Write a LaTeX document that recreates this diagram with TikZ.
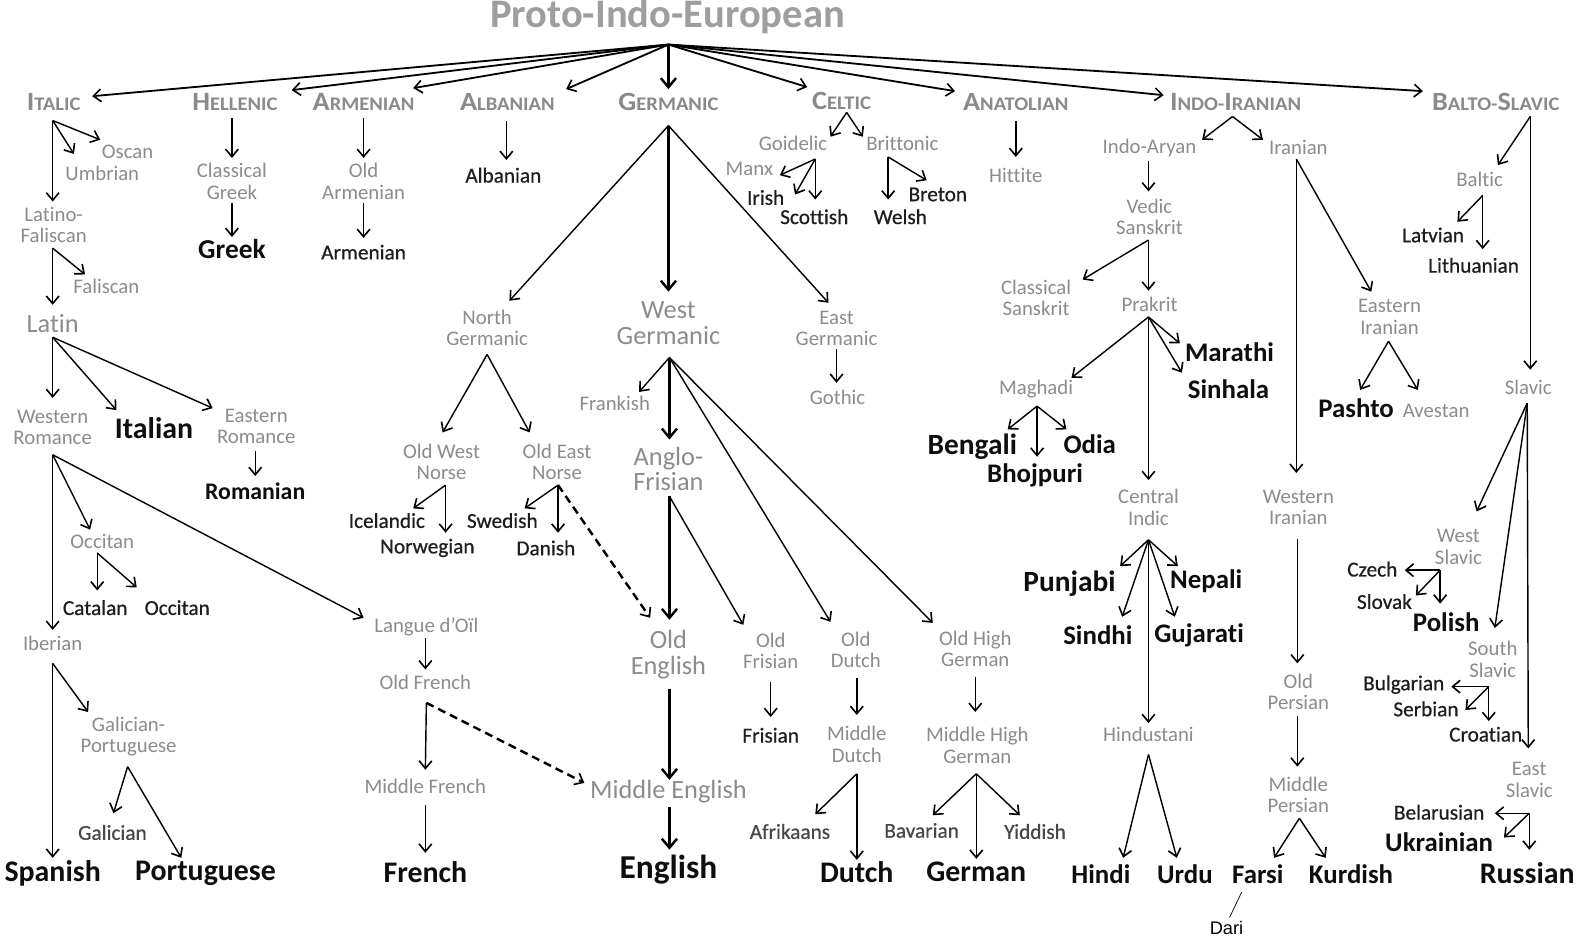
\documentclass[tikz,border=0pt]{standalone}
\usepackage{fontspec}
\setmainfont{Carlito}[Ligatures=NoCommon]
\newfontfamily\hdfont[FakeStretch=1.07,Ligatures=NoCommon]{Carlito}
\newfontfamily\dkfont[FakeBold=0.6,Ligatures=NoCommon]{Carlito}
\newfontfamily\arialf{Liberation Sans}
\usetikzlibrary{arrows.meta}
\definecolor{gt}{HTML}{8C8C8C}
\definecolor{ht}{HTML}{8A8A8A}
\definecolor{dt}{HTML}{1E1E1E}
\definecolor{bt}{HTML}{0E0E0E}
\definecolor{pt}{HTML}{9E9E9E}
\newcommand\myfs[2]{\fontsize{#1}{#2}\selectfont}
\newcommand\bigc[1]{{\myfs{26}{26}#1}}
\newcommand\cn[5][]{\draw[ar,#1] ([shift={(#3)}]#2.center) -- ([shift={(#5)}]#4.center);}
\begin{document}
\begin{tikzpicture}[x=1pt,y=-1pt,
  gn/.style={font=\myfs{20.5}{21}, text=gt, align=center, inner sep=0pt},
  gl/.style={font=\myfs{26}{25.5}, text=gt, align=center, inner sep=0pt},
  dk/.style={font=\dkfont\myfs{21}{22}, text=dt, inner sep=0pt},
  bg/.style={font=\bfseries\myfs{29.5}{30}, text=bt, inner sep=0pt},
  bm/.style={font=\bfseries\myfs{26.5}{27}, text=bt, inner sep=0pt},
  hd/.style={font=\hdfont\bfseries\myfs{19}{19}, text=ht, inner sep=0pt},
  ar/.style={-{Straight Barb[length=7.5pt,width=12.5pt,line width=1.6pt]}, line width=1.4pt, draw=black},
  pa/.style={line width=1.8pt},
  tk/.style={-{Straight Barb[length=9pt,width=15pt,line width=2.4pt]}, line width=3.2pt},
  dsh/.style={dash pattern=on 8pt off 5pt, line width=2.4pt}
]
\useasboundingbox (0,0) rectangle (1568,938);
\fill[white] (0,0) rectangle (1568,938);

% title
\node[font=\bfseries\myfs{40}{40}, text=pt, inner sep=0pt] (proto) at (659,16) {Proto-Indo-European};

% headers
\node[hd] (italic) at (53,101) {\bigc{I}TALIC};
\node[hd] (hellenic) at (232,101) {\bigc{H}ELLENIC};
\node[hd] (armenian) at (359,101) {\bigc{A}RMENIAN};
\node[hd] (albanian) at (501,101) {\bigc{A}LBANIAN};
\node[hd] (germanic) at (660,101) {\bigc{G}ERMANIC};
\node[hd] (celtic) at (831,100) {\bigc{C}ELTIC};
\node[hd] (anatolian) at (1003,101) {\bigc{A}NATOLIAN};
\node[hd] (indoiranian) at (1220,101) {\bigc{I}NDO-\bigc{I}RANIAN};
\node[hd] (baltoslavic) at (1477,101) {\bigc{B}ALTO-\bigc{S}LAVIC};

\cn[pa]{proto}{1,28}{italic}{38,-6}
\cn[pa]{proto}{1,28}{hellenic}{56,-12}
\cn[pa]{proto}{1,28}{armenian}{49,-14}
\cn[pa]{proto}{1,28}{albanian}{58,-13}
\cn[tk]{proto}{1,28}{germanic}{0,-13}
\cn[pa]{proto}{1,28}{celtic}{-34,-14}
\cn[pa]{proto}{1,28}{anatolian}{-60,-11}
\cn[pa]{proto}{1,28}{indoiranian}{-71,-7}
\cn[pa]{proto}{1,28}{baltoslavic}{-72,-11}

% ---------------- Italic
\node[gn] (oscan) at (126,150) {Oscan};
\node[gn] (umbrian) at (101,171) {Umbrian};
\node[gn] (latfal) at (53,222) {Latino-\\Faliscan};
\node[gn] (faliscan) at (105,283) {Faliscan};
\node[gl] (latin) at (52,319) {Latin};
\node[gn] (wrom) at (52,422) {Western\\Romance};
\node[bg] (italian) at (152,423) {Italian};
\node[gn] (erom) at (253,421) {Eastern\\Romance};
\node[font=\bfseries\myfs{23.5}{24}, text=bt, inner sep=0pt] (romanian) at (252,485) {Romanian};
\node[gn] (occg) at (101,535) {Occitan};
\node[dk] (catalan) at (94,600) {Catalan};
\node[dk] (occitan) at (175,600) {Occitan};
\node[gn] (iberian) at (52,635) {Iberian};
\node[gn] (galport) at (127,727) {Galician-\\Portuguese};
\node[dk, text=black!72] (galician) at (111,822) {Galician};
\node[bg] (spanish) at (52,862) {Spanish};
\node[bg] (portuguese) at (203,862) {Portuguese};
\node[gn] (langue) at (421,619) {Langue d’Oïl};
\node[gn] (oldfrench) at (420,674) {Old French};
\node[gn] (midfrench) at (420,776) {Middle French};
\node[bg] (french) at (420,861) {French};

\cn{italic}{-1,18}{oscan}{-27,-12}
\cn{italic}{-1,18}{umbrian}{-28,-19}
\cn{italic}{-1,18}{latfal}{-1,-23}
\cn{latfal}{-1,23}{faliscan}{-21,-12}
\cn{latfal}{-1,23}{latin}{0,-18}
\cn{latin}{0,14}{wrom}{0,-29}
\cn{latin}{0,14}{italian}{-37,-18}
\cn{latin}{0,14}{erom}{-43,-18}
\cn{erom}{-1,24}{romanian}{0,-15}
\cn{wrom}{0,27}{occg}{-12,-12}
\cn{wrom}{0,27}{langue}{-62,-9}
\cn{wrom}{0,27}{iberian}{0,-13}
\cn{occg}{-5,11}{catalan}{2,-17}
\cn{occg}{-5,11}{occitan}{-40,-20}
\cn{iberian}{0,20}{spanish}{0,-15}
\cn{iberian}{0,20}{galport}{-40,-24}
\cn{galport}{-1,30}{galician}{1,-19}
\cn{galport}{-1,30}{portuguese}{-24,-15}
\cn{langue}{-1,11}{oldfrench}{0,-13}
\cn{oldfrench}{1,20}{midfrench}{0,-16}
\cn{midfrench}{0,19}{french}{0,-19}

% ---------------- Hellenic, Armenian, Albanian
\node[gn] (classgreek) at (229,179) {Classical\\Greek};
\node[font=\bfseries\myfs{27}{27}, text=bt, inner sep=0pt] (greek) at (229,246) {Greek};
\node[gn] (oldarm) at (359,179) {Old\\Armenian};
\node[dk] (armenianL) at (359,249) {Armenian};
\node[dk] (albanianL) at (497,173) {Albanian};

\cn{hellenic}{-3,16}{classgreek}{0,-23}
\cn{classgreek}{0,21}{greek}{0,-12}
\cn{armenian}{0,16}{oldarm}{0,-23}
\cn{oldarm}{0,21}{armenianL}{0,-14}
\cn{albanian}{-1,18}{albanianL}{3,-15}

% ---------------- Germanic
\node[gn] (ng) at (481,324) {North\\Germanic};
\node[gl] (wg) at (660,319) {West\\Germanic};
\node[gn] (eg) at (826,324) {East\\Germanic};
\node[gn] (gothic) at (827,392) {Gothic};
\node[gn] (own) at (436,456) {Old West\\Norse};
\node[gn] (oen) at (550,456) {Old East\\Norse};
\node[dk] (icelandic) at (382,514) {Icelandic};
\node[dk] (norwegian) at (422,541) {Norwegian};
\node[dk] (swedish) at (496,514) {Swedish};
\node[dk] (danish) at (539,541) {Danish};
\node[gn] (frankish) at (607,398) {Frankish};
\node[gl] (af) at (660,463) {Anglo-\\Frisian};
\node[gl] (oe) at (660,646) {Old\\English};
\node[gn] (of) at (761,643) {Old\\Frisian};
\node[gn] (od) at (845,642) {Old\\Dutch};
\node[gn] (ohg) at (963,641) {Old High\\German};
\node[gl] (me) at (660,782) {Middle English};
\node[font=\bfseries\myfs{33}{33}, text=bt, inner sep=0pt] (english) at (660,859) {English};
\node[dk] (frisian) at (761,726) {Frisian};
\node[gn] (md) at (846,735) {Middle\\Dutch};
\node[dk, text=black!72] (afrikaans) at (780,821) {Afrikaans};
\node[bg] (dutch) at (846,861) {Dutch};
\node[gn] (mhg) at (965,736) {Middle High\\German};
\node[dk, text=black!72] (bavarian) at (910,820) {Bavarian};
\node[bg] (german) at (964,861) {German};
\node[dk, text=black!72] (yiddish) at (1022,821) {Yiddish};

\cn{germanic}{0,23}{ng}{22,-27}
\cn[tk]{germanic}{0,23}{wg}{0,-31}
\cn{germanic}{0,23}{eg}{-8,-25}
\cn{eg}{0,21}{gothic}{-1,-14}
\cn{ng}{0,26}{own}{1,-29}
\cn{ng}{0,26}{oen}{-27,-29}
\cn{own}{4,23}{icelandic}{26,-12}
\cn{own}{4,23}{norwegian}{18,-15}
\cn{oen}{1,23}{swedish}{22,-12}
\cn{oen}{1,23}{danish}{12,-15}
\cn[dsh]{oen}{1,23}{oe}{-18,-36}
\cn{wg}{1,34}{frankish}{24,-11}
\cn[tk]{wg}{1,34}{af}{1,-29}
\cn{wg}{1,34}{od}{-25,-28}
\cn{wg}{1,34}{ohg}{-42,-26}
\cn[tk]{af}{1,27}{oe}{1,-34}
\cn{af}{1,27}{of}{-27,-26}
\cn[tk]{oe}{1,34}{me}{1,-12}
\cn[tk]{me}{1,15}{english}{1,-20}
\cn[dsh]{oldfrench}{1,20}{me}{-83,-9}
\cn{of}{0,30}{frisian}{0,-18}
\cn{od}{1,27}{md}{0,-29}
\cn{md}{0,29}{afrikaans}{25,-17}
\cn{md}{0,29}{dutch}{0,-12}
\cn{ohg}{0,27}{mhg}{-2,-33}
\cn{mhg}{-1,28}{bavarian}{11,-15}
\cn{mhg}{-1,28}{german}{0,-13}
\cn{mhg}{-1,28}{yiddish}{-15,-16}

% ---------------- Celtic
\node[gn] (goidelic) at (783,142) {Goidelic};
\node[gn] (brittonic) at (891,142) {Brittonic};
\node[gn] (manx) at (740,167) {Manx};
\node[dk] (irish) at (756,195) {Irish};
\node[dk] (scottish) at (804,214) {Scottish};
\node[dk] (breton) at (926,192) {Breton};
\node[dk] (welsh) at (889,214) {Welsh};

\cn{celtic}{5,11}{goidelic}{37,-7}
\cn{celtic}{5,11}{brittonic}{-39,-7}
\cn{goidelic}{22,15}{manx}{30,6}
\cn{goidelic}{22,15}{irish}{29,-3}
\cn{goidelic}{22,15}{scottish}{1,-17}
\cn{brittonic}{-14,13}{welsh}{-12,-17}
\cn{brittonic}{-14,13}{breton}{-11,-14}

% ---------------- Anatolian
\node[gn] (hittite) at (1003,173) {Hittite};
\cn{anatolian}{0,18}{hittite}{0,-18}

% ---------------- Indo-Iranian
\node[gn] (indoaryan) at (1135,146) {Indo-Aryan};
\node[gn] (iranian) at (1282,146) {Iranian};
\node[gn] (vs) at (1135,214) {Vedic\\Sanskrit};
\node[gn] (clskt) at (1023,294) {Classical\\Sanskrit};
\node[gn] (prakrit) at (1135,301) {Prakrit};
\node[gn] (maghadi) at (1023,384) {Maghadi};
\node[bm] (marathi) at (1214,348) {Marathi};
\node[bm] (sinhala) at (1213,384) {Sinhala};
\node[font=\bfseries\myfs{29}{29}, text=bt, inner sep=0pt] (bengali) at (960,441) {Bengali};
\node[bm] (bhojpuri) at (1022,469) {Bhojpuri};
\node[bm] (odia) at (1076,439) {Odia};
\node[gn] (ci) at (1134,501) {Central\\Indic};
\node[font=\bfseries\myfs{29}{29}, text=bt, inner sep=0pt] (punjabi) at (1056,576) {Punjabi};
\node[bm] (nepali) at (1191,574) {Nepali};
\node[bm] (sindhi) at (1084,627) {Sindhi};
\node[bm] (gujarati) at (1184,627) {Gujarati};
\node[gn] (hindustani) at (1134,725) {Hindustani};
\node[bm] (hindi) at (1087,863) {Hindi};
\node[bm] (urdu) at (1170,863) {Urdu};

\cn{indoiranian}{-3,14}{indoaryan}{52,-8}
\cn{indoiranian}{-3,14}{iranian}{-35,-8}
\cn{indoaryan}{-1,13}{vs}{-1,-25}
\cn{vs}{-1,23}{clskt}{46,-18}
\cn{vs}{-1,23}{prakrit}{-1,-14}
\cn{prakrit}{-1,12}{maghadi}{35,-11}
\cn{prakrit}{-1,12}{marathi}{-49,-9}
\cn{prakrit}{-1,12}{sinhala}{-46,-16}
\cn{prakrit}{-1,12}{ci}{0,-27}
\cn{maghadi}{1,17}{bengali}{35,-17}
\cn{maghadi}{1,17}{bhojpuri}{2,-18}
\cn{maghadi}{1,17}{odia}{-23,-15}
\cn{ci}{0,32}{punjabi}{50,-17}
\cn{ci}{0,32}{nepali}{-28,-15}
\cn{ci}{0,32}{sindhi}{24,-18}
\cn{ci}{0,32}{gujarati}{-24,-18}
\cn{ci}{0,32}{hindustani}{0,-11}
\cn{hindustani}{0,20}{hindi}{22,-16}
\cn{hindustani}{0,20}{urdu}{-8,-16}

\node[gn] (ei) at (1372,313) {Eastern\\Iranian};
\node[bm] (pashto) at (1339,403) {Pashto};
\node[gn] (avestan) at (1418,406) {Avestan};
\node[gn] (wi) at (1282,501) {Western\\Iranian};
\node[gn] (op) at (1282,683) {Old\\Persian};
\node[gn] (mp) at (1282,785) {Middle\\Persian};
\node[bm] (farsi) at (1242,863) {Farsi};
\node[bm] (kurdish) at (1334,863) {Kurdish};
\node[font=\arialf\myfs{18}{18}, text=black, inner sep=0pt] (dari) at (1211,916) {Dari};

\cn{iranian}{-2,11}{ei}{-18,-25}
\cn{iranian}{-2,11}{wi}{-2,-34}
\cn{ei}{-1,24}{pashto}{4,-18}
\cn{ei}{-1,24}{avestan}{-18,-21}
\cn{wi}{-1,31}{op}{-1,-28}
\cn{op}{-1,24}{mp}{-1,-28}
\cn{mp}{1,23}{farsi}{16,-16}
\cn{mp}{1,23}{kurdish}{-25,-16}
\draw[line width=0.7pt] ([shift={(-16,18)}]farsi.center) -- ([shift={(3,-10)}]dari.center);

% ---------------- Balto-Slavic
\node[gn] (baltic) at (1461,177) {Baltic};
\node[dk] (latvian) at (1415,232) {Latvian};
\node[dk] (lithuanian) at (1455,262) {Lithuanian};
\node[gn] (slavic) at (1509,382) {Slavic};
\node[gn] (ws) at (1440,540) {West\\Slavic};
\node[dk] (czech) at (1355,562) {Czech};
\node[dk] (slovak) at (1367,594) {Slovak};
\node[bm] (polish) at (1428,614) {Polish};
\node[gn] (ss) at (1474,651) {South\\Slavic};
\node[dk] (bulgarian) at (1386,676) {Bulgarian};
\node[dk] (serbian) at (1408,700) {Serbian};
\node[dk] (croatian) at (1467,725) {Croatian};
\node[gn] (es) at (1510,770) {East\\Slavic};
\node[dk] (belarusian) at (1421,802) {Belarusian};
\node[bm] (ukrainian) at (1421,832) {Ukrainian};
\node[bg] (russian) at (1508,862) {Russian};

\cn{baltoslavic}{34,14}{baltic}{18,-14}
\cn{baltoslavic}{34,14}{slavic}{2,-17}
\cn{baltic}{3,16}{latvian}{24,-13}
\cn{baltic}{3,16}{lithuanian}{9,-16}
\cn{slavic}{-1,16}{ws}{18,-35}
\cn{slavic}{-1,16}{ss}{2,-31}
\cn{slavic}{-1,16}{es}{-1,-31}
\cn{ws}{-18,23}{czech}{32,1}
\cn{ws}{-18,23}{slovak}{31,-6}
\cn{ws}{-18,23}{polish}{-6,-18}
\cn{ss}{-4,27}{bulgarian}{47,2}
\cn{ss}{-4,27}{serbian}{39,1}
\cn{ss}{-4,27}{croatian}{3,-13}
\cn{es}{0,33}{belarusian}{55,1}
\cn{es}{0,33}{ukrainian}{64,-5}
\cn{es}{0,33}{russian}{2,-23}
\end{tikzpicture}
\end{document}
